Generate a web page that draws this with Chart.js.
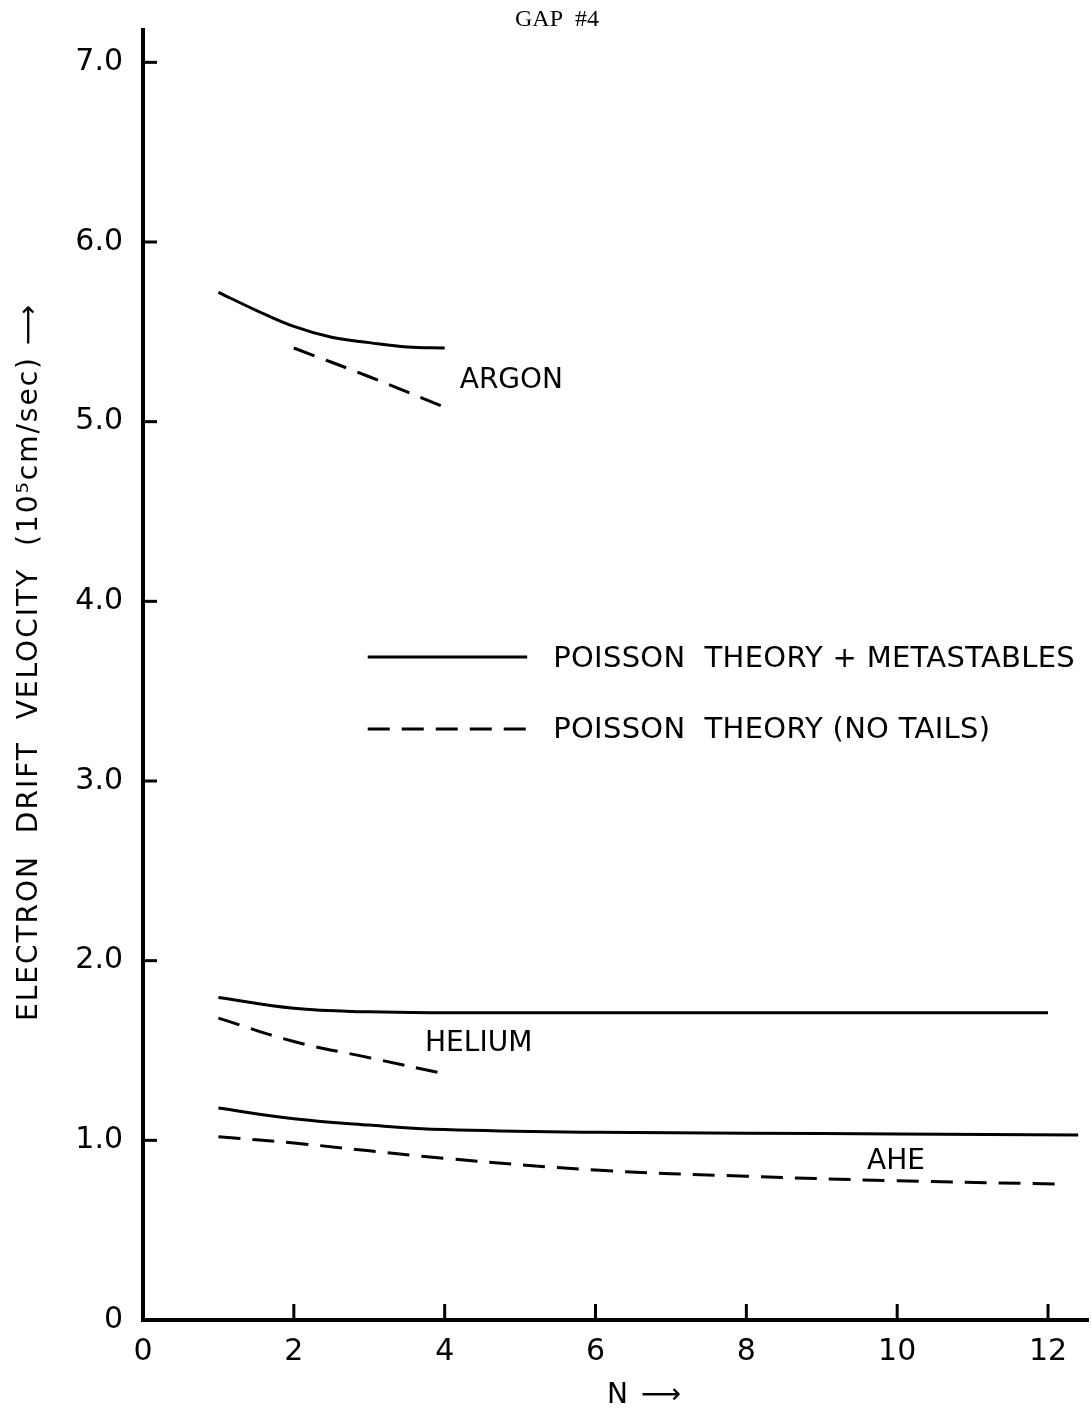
<!DOCTYPE html>
<html>
<head>
<meta charset="utf-8">
<script src="https://cdn.jsdelivr.net/npm/chart.js@4"></script>
<style>
html, body { margin: 0; padding: 0; background: #fff; }
#grafico { display: block; }
</style>
</head>
<body>
<canvas id="grafico" width="1092" height="1413"></canvas>
<script>
// tick values
const xTicks = [0, 2, 4, 6, 8, 10, 12];
const yTicks = [0, 1, 2, 3, 4, 5, 6, 7];

// ARGON
const argonSolidN = [1, 1.5, 2, 2.5, 3, 3.5, 4];
const argonSolid = [5.72, 5.62, 5.53, 5.47, 5.44, 5.415, 5.41];
const argonDashN = [2, 3, 4];
const argonDash = [5.41, 5.25, 5.08];

// HELIUM
const heliumSolidN = [1, 2, 3, 4, 6, 8, 10, 12];
const heliumSolid = [1.795, 1.735, 1.715, 1.71, 1.71, 1.71, 1.71, 1.71];
const heliumDashN = [1, 2, 3, 4];
const heliumDash = [1.68, 1.55, 1.46, 1.37];

// AHE
const aheSolidN = [1, 2, 3, 4, 6, 8, 10, 12.4];
const aheSolid = [1.18, 1.12, 1.085, 1.06, 1.045, 1.04, 1.035, 1.03];
const aheDashN = [1, 2, 4, 6, 8, 10, 12.1];
const aheDash = [1.02, 0.985, 0.90, 0.835, 0.80, 0.775, 0.757];

const fonte = "'DejaVu Sans', sans-serif";
const traco = [22, 12];

function serie(ns, vs, tracejado) {
    return {
        data: ns.map((n, i) => ({ x: n, y: vs[i] })),
        borderColor: "#000",
        borderWidth: 3,
        borderDash: tracejado ? traco : [],
        pointRadius: 0,
        tension: 0.4,
        fill: false
    };
}

function linha(ctx, x1, y1, x2, y2) {
    ctx.beginPath();
    ctx.moveTo(x1, y1);
    ctx.lineTo(x2, y2);
    ctx.stroke();
}

const extras = {
    id: "extras",
    afterDraw(chart) {
        const ctx = chart.ctx;
        const x = chart.scales.x;
        const y = chart.scales.y;
        ctx.save();
        ctx.strokeStyle = "#000";
        ctx.fillStyle = "#000";
        ctx.lineWidth = 3;

        // marcas internas
        yTicks.slice(1).forEach(v => {
            const py = y.getPixelForValue(v);
            linha(ctx, x.left, py, x.left + 14, py);
        });
        xTicks.slice(1).forEach(v => {
            const px = x.getPixelForValue(v);
            linha(ctx, px, y.bottom, px, y.bottom - 16);
        });

        // titulo
        ctx.font = "24px 'Liberation Serif', serif";
        ctx.textAlign = "center";
        ctx.textBaseline = "middle";
        ctx.fillText("GAP  #4", 557, 20);

        // rotulos das curvas
        ctx.font = "28px " + fonte;
        ctx.textAlign = "left";
        ctx.fillText("ARGON", x.getPixelForValue(4.2), y.getPixelForValue(5.23));
        ctx.fillText("HELIUM", x.getPixelForValue(3.74), y.getPixelForValue(1.54));
        ctx.fillText("AHE", x.getPixelForValue(9.6), y.getPixelForValue(0.88));

        // legenda
        const lx1 = x.getPixelForValue(2.98);
        const lx2 = x.getPixelForValue(5.2);
        const ly1 = y.getPixelForValue(3.69);
        const ly2 = y.getPixelForValue(3.29);
        linha(ctx, lx1, ly1, lx2 - 8, ly1);
        ctx.setLineDash(traco);
        linha(ctx, lx1, ly2, lx2, ly2);
        ctx.setLineDash([]);
        ctx.font = "29px " + fonte;
        ctx.letterSpacing = "0.3px";
        ctx.fillText("POISSON  THEORY + METASTABLES", lx2 + 18, ly1 + 2);
        ctx.fillText("POISSON  THEORY (NO TAILS)", lx2 + 18, ly2 + 2);

        // titulos dos eixos
        ctx.font = "28px " + fonte;
        ctx.letterSpacing = "2px";
        ctx.textAlign = "center";
        ctx.fillText("N \u27F6", 645, 1396);
        ctx.translate(30, 662);
        ctx.rotate(-Math.PI / 2);
        ctx.fillText("ELECTRON  DRIFT  VELOCITY  (10\u2075cm/sec) \u27F6", 0, 0);
        ctx.restore();
    }
};

function desenharGrafico() {
    const ctx = document.getElementById("grafico").getContext("2d");
    new Chart(ctx, {
        type: "line",
        data: {
            datasets: [
                serie(argonSolidN, argonSolid, false),
                serie(argonDashN, argonDash, true),
                serie(heliumSolidN, heliumSolid, false),
                serie(heliumDashN, heliumDash, true),
                serie(aheSolidN, aheSolid, false),
                serie(aheDashN, aheDash, true)
            ]
        },
        options: {
            responsive: false,
            animation: false,
            layout: { padding: { top: 30, right: 4, left: 0, bottom: 0 } },
            plugins: {
                legend: { display: false },
                tooltip: { enabled: false }
            },
            scales: {
                x: {
                    type: "linear",
                    min: 0,
                    max: 12.53,
                    afterBuildTicks: s => { s.ticks = xTicks.map(v => ({ value: v })); },
                    afterFit: s => { s.height = 93; s.paddingLeft = 0; s.paddingRight = 0; },
                    grid: { display: false, drawTicks: false },
                    border: { display: true, color: "#000", width: 4 },
                    ticks: {
                        color: "#000",
                        padding: 14,
                        font: { family: fonte, size: 30 },
                        callback: v => String(v)
                    }
                },
                y: {
                    type: "linear",
                    min: 0,
                    max: 7.18,
                    afterBuildTicks: s => { s.ticks = yTicks.map(v => ({ value: v })); },
                    afterFit: s => { s.width = 143; s.paddingTop = 0; s.paddingBottom = 0; },
                    grid: { display: false, drawTicks: false },
                    border: { display: true, color: "#000", width: 4 },
                    ticks: {
                        color: "#000",
                        padding: 20,
                        font: { family: fonte, size: 30 },
                        callback: v => v === 0 ? "0" : v.toFixed(1)
                    }
                }
            }
        },
        plugins: [extras]
    });
}

window.onload = () => {
    desenharGrafico();
};
</script>
</body>
</html>
